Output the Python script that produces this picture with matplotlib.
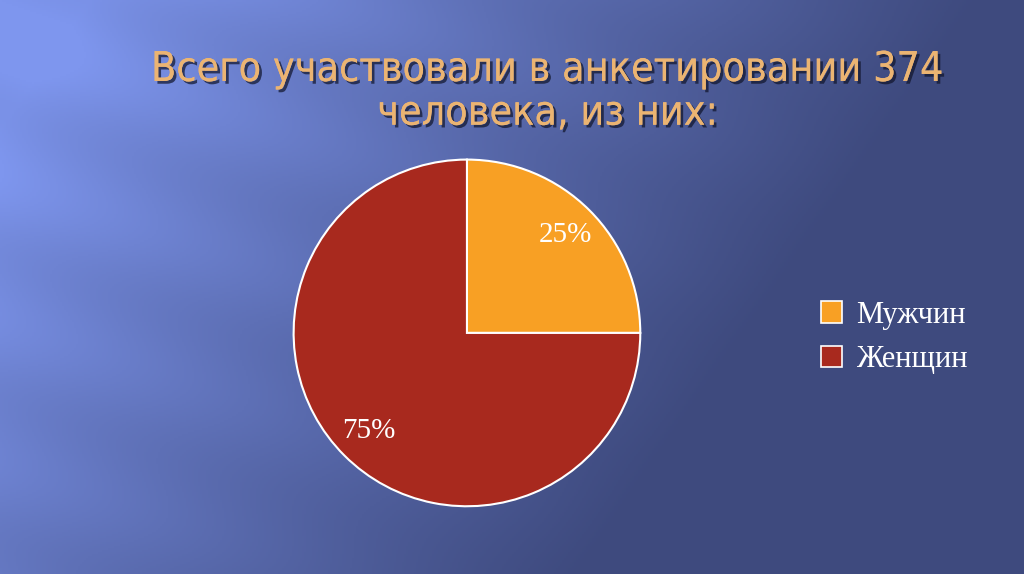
import numpy as np
import matplotlib
matplotlib.use('Agg')
import matplotlib.pyplot as plt
import matplotlib.patheffects as pe
from matplotlib.patches import Patch

title = 'Всего участвовали в анкетировании 374\nчеловека, из них:'
labels = ['Мужчин', 'Женщин']
shares = [25, 75]
colors = ['#F8A024', '#A8291E']

fig = plt.figure(figsize=(10.24, 5.74), dpi=100)

# background: blue gradient, light on the left with soft diagonal streaks
bg = fig.add_axes([0, 0, 1, 1])
h, w = 287, 512
yy, xx = np.mgrid[0:h, 0:w]
u = xx / w
v = yy / h
t = np.clip(1.15 * u + 0.45 * v - 0.1, 0, 1) ** 0.9
streak = np.sin((v - 0.6 * u) * 2 * np.pi * 4)
t = np.clip(t - 0.06 * streak * (1 - t), 0, 1)
light = np.array([126, 150, 238]) / 255
dark = np.array([62, 74, 126]) / 255
img = light[None, None, :] * (1 - t[..., None]) + dark[None, None, :] * t[..., None]
bg.imshow(img, extent=[0, 1, 0, 1], aspect='auto', origin='upper')
bg.set_axis_off()

fig.text(0.535, 0.84, title, ha='center', va='center', fontsize=29.5,
         family=['Liberation Sans Narrow', 'DejaVu Sans'], stretch='condensed',
         color='#EBB472', linespacing=1.12,
         path_effects=[pe.withSimplePatchShadow(offset=(2, -2), shadow_rgbFace='#10142a', alpha=0.7),
                       pe.Normal()])

ax = fig.add_axes([0.285, 0.115, 0.342, 0.61])
wedges, texts, autotexts = ax.pie(shares, colors=colors, startangle=90, counterclock=False,
                                  autopct='%d%%', pctdistance=0.8,
                                  wedgeprops=dict(edgecolor='white', linewidth=1.5),
                                  textprops=dict(color='white', fontsize=21, family='Liberation Serif'))
ax.set_xlim(-1.01, 1.01)
ax.set_ylim(-1.01, 1.01)
ax.set_aspect('equal')

handles = [Patch(facecolor=c, edgecolor='white', linewidth=1.2) for c in colors]
leg = fig.legend(handles, labels, loc='center left', bbox_to_anchor=(0.775, 0.412),
                 frameon=False, prop=dict(family='Liberation Serif', size=22),
                 labelcolor='white', handlelength=0.7, handleheight=0.7,
                 handletextpad=0.45, labelspacing=0.5)

fig.savefig('out.png', dpi=100)
